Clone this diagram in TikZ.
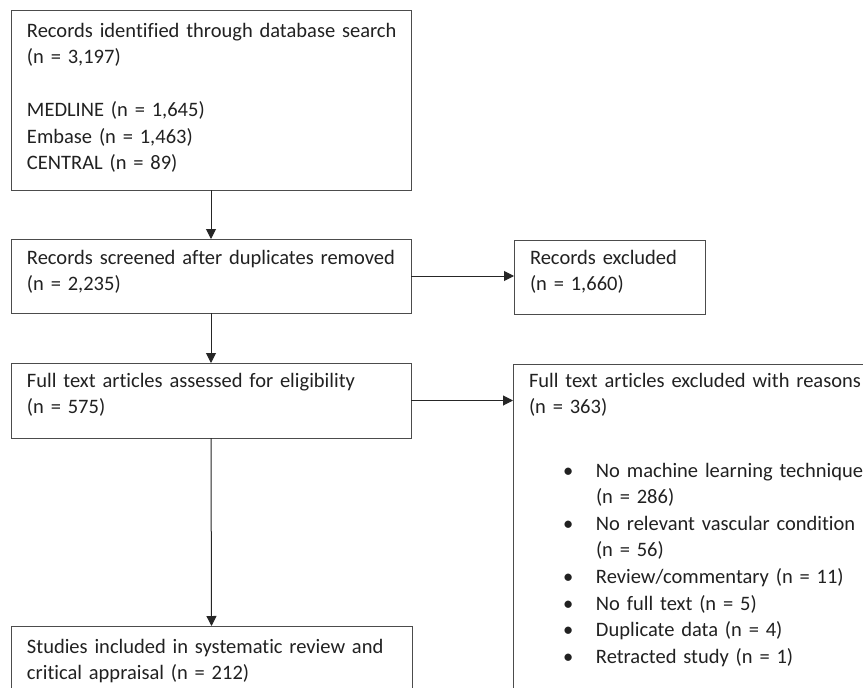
\documentclass[tikz,border=0pt]{standalone}
\usepackage{fontspec}
\setmainfont{Carlito}[Ligatures=NoCommon]
\usetikzlibrary{arrows.meta}
\definecolor{boxline}{gray}{0.30}
\definecolor{txtcol}{gray}{0.13}
\tikzset{
  box/.style={draw=boxline, line width=1pt, rectangle, anchor=north west, inner sep=0pt, outer sep=0pt},
  txt/.style={anchor=base west, inner sep=0pt, outer sep=0pt, text=txtcol, align=left, text width=#1,
    font=\fontsize{20.5pt}{26.6pt}\selectfont},
  txt/.default=420pt,
  conn/.style={draw=black!85, line width=1pt, -{Triangle[length=10pt,width=10pt]}}
}
\begin{document}
\begin{tikzpicture}[x=1pt,y=-1pt]
\useasboundingbox (0,0) rectangle (863,688);
\clip (0,0) rectangle (863,688);
\fill[white] (0,0) rectangle (863,688);
% boxes
\node[box, minimum width=400pt, minimum height=180pt] (b1) at (11,10) {};
\node[box, minimum width=400pt, minimum height=74pt] (b2) at (11,239) {};
\node[box, minimum width=191pt, minimum height=74pt] (b3) at (514,240) {};
\node[box, minimum width=400pt, minimum height=75pt] (b4) at (11,363) {};
\node[box, minimum width=400pt, minimum height=400pt] (b5) at (513,364) {};
\node[box, minimum width=401pt, minimum height=100pt] (b6) at (11,626) {};
% texts
\node[txt] (t1) at (27,37) {Records identified through database search\\(n = 3,197)\\[26.6pt]MEDLINE (n = 1,645)\\Embase (n = 1,463)\\CENTRAL (n = 89)};
\node[txt] (t2) at (27,264) {Records screened after duplicates removed\\(n = 2,235)};
\node[txt=250pt] (t3) at (530,264) {Records excluded\\(n = 1,660)};
\node[txt] (t4) at (27,387) {Full text articles assessed for eligibility\\(n = 575)};
\node[txt] (t5) at (529,387) {Full text articles excluded with reasons\\(n = 363)};
\node[txt] (t5b) at (563,477) {%
\makebox[33pt][l]{\textbullet}No machine learning technique\\
\hspace*{33pt}(n = 286)\\
\makebox[33pt][l]{\textbullet}No relevant vascular condition\\
\hspace*{33pt}(n = 56)\\
\makebox[33pt][l]{\textbullet}Review/commentary (n = 11)\\
\makebox[33pt][l]{\textbullet}No full text (n = 5)\\
\makebox[33pt][l]{\textbullet}Duplicate data (n = 4)\\
\makebox[33pt][l]{\textbullet}Retracted study (n = 1)};
\node[txt] (t6) at (27,653) {Studies included in systematic review and\\critical appraisal (n = 212)};
% connectors
\draw[conn] (b1.south) -- (b2.north);
\draw[conn] (b2.east) -- (b2.east -| b3.west);
\draw[conn] (b2.south) -- (b4.north);
\draw[conn] (b4.east) -- (b4.east -| b5.west);
\draw[conn] (b4.south) -- (b6.north);
\end{tikzpicture}
\end{document}
